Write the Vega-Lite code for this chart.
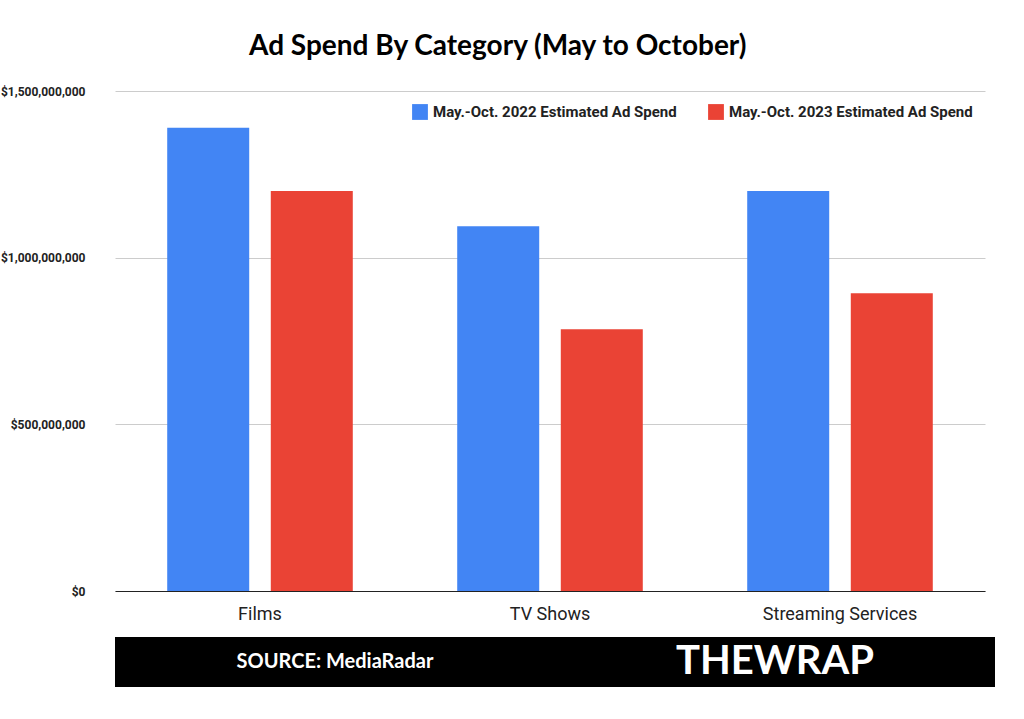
{
  "$schema": "https://vega.github.io/schema/vega-lite/v6.json",
  "background": "white",
  "padding": {"left": 0, "right": 10, "top": 33, "bottom": 0},
  "config": {"font": "Roboto", "view": {"stroke": null}, "concat": {"spacing": 14}},
  "title": {"text": "Ad Spend By Category (May to October)", "fontSize": 28, "font": "Lato", "fontWeight": "bold", "color": "black", "offset": 24, "anchor": "middle"},
  "resolve": {"legend": {"color": "independent", "size": "independent"}},
  "vconcat": [
    {
      "width": 870,
      "height": 500,
      "data": {"values": [
        {"category": "Films", "series": "May.-Oct. 2022 Estimated Ad Spend", "spend": 1390000000},
        {"category": "Films", "series": "May.-Oct. 2023 Estimated Ad Spend", "spend": 1200000000},
        {"category": "TV Shows", "series": "May.-Oct. 2022 Estimated Ad Spend", "spend": 1094000000},
        {"category": "TV Shows", "series": "May.-Oct. 2023 Estimated Ad Spend", "spend": 785000000},
        {"category": "Streaming Services", "series": "May.-Oct. 2022 Estimated Ad Spend", "spend": 1200000000},
        {"category": "Streaming Services", "series": "May.-Oct. 2023 Estimated Ad Spend", "spend": 893000000}
      ]},
      "mark": {"type": "bar", "width": 82},
      "encoding": {
        "x": {"field": "category", "type": "nominal", "sort": ["Films", "TV Shows", "Streaming Services"], "title": null,
          "scale": {"paddingInner": 0.3, "paddingOuter": 0.15},
          "axis": {"labelAngle": 0, "labelFontSize": 18, "labelColor": "#222", "ticks": false, "domainColor": "#222", "labelPadding": 14}},
        "xOffset": {"field": "series", "type": "nominal", "scale": {"paddingInner": 0.04}},
        "y": {"field": "spend", "type": "quantitative", "title": null,
          "scale": {"domain": [0, 1500000000]},
          "axis": {"values": [0, 500000000, 1000000000, 1500000000], "format": "$,d", "labelFontSize": 12, "labelFontWeight": "bold", "labelColor": "#222", "ticks": false, "domain": false, "gridColor": "#ccc", "labelPadding": 30}},
        "color": {"field": "series", "type": "nominal", "title": null,
          "scale": {"range": ["#4285F4", "#EA4335"]},
          "legend": {"orient": "top-right", "direction": "horizontal", "labelFontSize": 15, "labelFontWeight": "bold", "labelColor": "#222", "symbolType": "square", "symbolSize": 250, "columnPadding": 30, "labelLimit": 400, "offset": 12, "fillColor": "white"}}
      }
    },
    {
      "width": 880,
      "height": 50,
      "view": {"fill": "black"},
      "data": {"values": [
        {"label": "SOURCE: MediaRadar", "side": "left"},
        {"label": "THEWRAP", "side": "right"}
      ]},
      "mark": {"type": "text", "color": "white", "fontWeight": "bold", "font": "Lato"},
      "encoding": {
        "x": {"field": "side", "type": "nominal", "axis": null},
        "text": {"field": "label"},
        "size": {"field": "side", "type": "nominal", "legend": null, "scale": {"range": [20, 40]}}
      }
    }
  ]
}
